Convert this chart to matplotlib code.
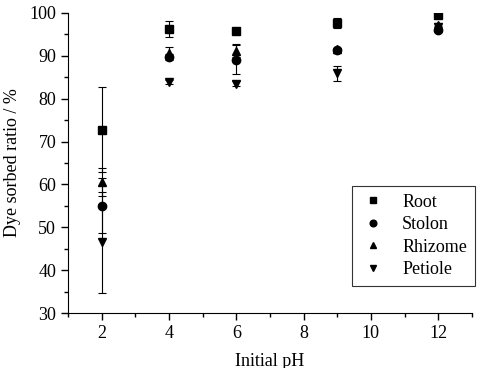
import numpy as np
import matplotlib.pyplot as plt

plt.rcParams['font.family'] = ['Liberation Serif', 'DejaVu Serif']

ph = [2, 4, 6, 9, 12]

root = [72.8, 96.3, 95.8, 97.6, 99.5]
root_err = [9.9, 1.9, 0.4, 1.1, 0.3]
stolon = [55.0, 89.8, 89.1, 91.4, 96.0]
stolon_err = [6.4, 0.6, 3.4, 0.5, 0.4]
rhizome = [60.6, 90.6, 91.2, 91.5, 97.2]
rhizome_err = [3.2, 1.5, 1.6, 0.4, 0.5]
petiole = [46.5, 83.9, 83.5, 85.9, 96.6]
petiole_err = [11.7, 0.5, 0.6, 1.7, 0.4]

fig = plt.figure(figsize=(4.82, 3.68), dpi=100)
ax = fig.add_axes([0.141, 0.149, 0.838, 0.816])

series = [
    ('Root', root, root_err, 's'),
    ('Stolon', stolon, stolon_err, 'o'),
    ('Rhizome', rhizome, rhizome_err, '^'),
    ('Petiole', petiole, petiole_err, 'v'),
]
for name, vals, err, m in series:
    ax.errorbar(ph, vals, yerr=err, fmt=m, color='black', ms=6,
                ecolor='black', elinewidth=0.8, capsize=3, capthick=0.8,
                label=name)

ax.set_xlim(1, 13)
ax.set_ylim(30, 100)
ax.set_xticks([2, 4, 6, 8, 10, 12])
ax.set_xticks([1, 3, 5, 7, 9, 11, 13], minor=True)
ax.set_yticks(np.arange(30, 101, 10))
ax.set_yticks(np.arange(35, 100, 10), minor=True)
ax.tick_params(direction='out', length=5, width=1, labelsize=13)
ax.tick_params(which='minor', direction='out', length=3, width=1)
ax.spines['top'].set_visible(False)
ax.spines['right'].set_visible(False)

ax.set_xlabel('Initial pH', fontsize=13, labelpad=8)
ax.set_ylabel('Dye sorbed ratio / %', fontsize=13, labelpad=6)

handles, labels = ax.get_legend_handles_labels()
handles = [h[0] for h in handles]
leg = ax.legend(handles, labels, loc='lower right', bbox_to_anchor=(1.008, 0.09),
                fontsize=13, frameon=True, fancybox=False, edgecolor='black',
                handlelength=1.4, handletextpad=0.9, markerscale=0.8,
                borderpad=0.45, labelspacing=0.3, borderaxespad=0)
leg.get_frame().set_linewidth(0.8)

fig.savefig('out.png', dpi=100)
